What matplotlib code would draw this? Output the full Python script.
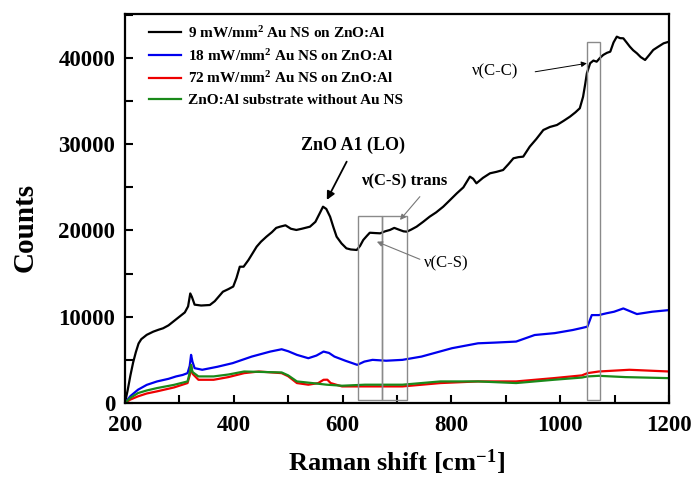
import matplotlib
matplotlib.use("Agg")
import matplotlib.pyplot as plt
from matplotlib.patches import Rectangle
from matplotlib.ticker import MultipleLocator

plt.rcParams["font.family"] = ["Liberation Serif", "DejaVu Serif"]
plt.rcParams["font.weight"] = "bold"
plt.rcParams["mathtext.fontset"] = "custom"
plt.rcParams["mathtext.rm"] = "Liberation Serif:bold"
plt.rcParams["mathtext.bf"] = "Liberation Serif:bold"
plt.rcParams["mathtext.default"] = "bf"

# Raman spectra (shift in cm^-1, counts)
shift_9mw = [200, 205, 210, 215, 220, 225, 230, 240, 252, 262, 270, 280, 290, 300, 310,
             316, 320, 323, 328, 340, 356, 365, 380, 390, 399, 405, 411, 418, 427, 435,
             442, 450, 460, 470, 478, 485, 495, 505, 515, 525, 540, 550, 558, 564, 570,
             577, 583, 589, 598, 607, 615, 626, 632, 638, 645, 650, 660, 669, 678, 687,
             695, 705, 712, 718, 726, 736, 748, 760, 772, 785, 797, 810, 822, 834, 840,
             846, 858, 871, 883, 895, 905, 914, 923, 932, 944, 956, 969, 981, 994, 1006,
             1018, 1028, 1036, 1042, 1046, 1049, 1055, 1061, 1067, 1073, 1079, 1086, 1092,
             1098, 1104, 1110, 1116, 1122, 1128, 1134, 1141, 1148, 1156, 1163, 1171, 1180,
             1190, 1200]
counts_9mw = [0, 1500, 3200, 4700, 5900, 6900, 7400, 7900, 8270, 8500, 8660, 9000, 9500,
              10000, 10500, 11200, 12700, 12300, 11400, 11300, 11360, 11800, 12900, 13200,
              13500, 14500, 15800, 15800, 16580, 17400, 18120, 18700, 19280, 19800, 20300,
              20440, 20600, 20200, 20060, 20200, 20440, 21000, 22000, 22760, 22500, 21600,
              20400, 19280, 18500, 17930, 17800, 17740, 18200, 18900, 19400, 19740, 19700,
              19670, 19900, 20060, 20300, 20060, 19900, 19860, 20100, 20440, 21000, 21600,
              22100, 22760, 23500, 24310, 25000, 26240, 26000, 25470, 26100, 26630, 26800,
              27010, 27700, 28370, 28500, 28560, 29720, 30600, 31650, 32000, 32230, 32700,
              33200, 33700, 34170, 35500, 37000, 38230, 39390, 39700, 39570, 40000, 40350,
              40600, 40730, 41800, 42470, 42300, 42280, 41800, 41310, 40900, 40540, 40100,
              39770, 40300, 40930, 41300, 41700, 41890]

shift_18mw = [200, 210, 224, 240, 259, 280, 294, 306, 315, 319, 321.5, 324, 328, 342, 370,
              398, 433, 467, 488, 500, 516, 537, 552, 565, 575, 585, 605, 627, 640, 655,
              680, 710, 745, 775, 801, 849, 880, 919, 953, 990, 1023, 1040, 1050, 1058,
              1071, 1085, 1099, 1116, 1141, 1169, 1200]
counts_18mw = [0, 800, 1540, 2100, 2500, 2800, 3080, 3250, 3460, 4300, 5580, 4800, 4040,
               3850, 4200, 4620, 5380, 5960, 6230, 6000, 5580, 5190, 5500, 5960, 5800, 5380,
               4900, 4420, 4800, 5000, 4900, 5000, 5380, 5900, 6350, 6920, 7000, 7120, 7880,
               8100, 8460, 8700, 8850, 10190, 10190, 10400, 10580, 10960, 10310, 10580, 10770]

shift_72mw = [200, 210, 224, 240, 259, 290, 315, 319, 321.5, 324, 335, 363, 390, 419, 446,
              488, 500, 516, 537, 555, 565, 572, 578, 599, 641, 710, 780, 849, 919, 988,
              1040, 1050, 1071, 1127, 1200]
counts_72mw = [0, 400, 770, 1100, 1350, 1800, 2310, 3200, 4400, 3400, 2690, 2690, 3000,
               3460, 3650, 3460, 3100, 2310, 2120, 2300, 2690, 2700, 2310, 1920, 1920,
               1920, 2310, 2500, 2500, 2880, 3200, 3460, 3650, 3850, 3650]

shift_sub = [200, 210, 224, 240, 259, 290, 315, 319, 321.5, 324, 335, 363, 390, 419, 450,
             488, 500, 516, 544, 571, 599, 641, 710, 780, 849, 919, 988, 1040, 1050, 1071,
             1120, 1200]
counts_sub = [0, 600, 1150, 1450, 1730, 2100, 2500, 3500, 4420, 3600, 3080, 3080, 3300,
              3650, 3600, 3540, 3200, 2500, 2310, 2120, 2000, 2120, 2120, 2500, 2500, 2310,
              2690, 2950, 3080, 3150, 3000, 2880]

series = [
    (shift_9mw, counts_9mw, "black", r"9 mW/mm$^2$ Au NS on ZnO:Al"),
    (shift_18mw, counts_18mw, "#0000ee", r"18 mW/mm$^2$ Au NS on ZnO:Al"),
    (shift_72mw, counts_72mw, "#ee0000", r"72 mW/mm$^2$ Au NS on ZnO:Al"),
    (shift_sub, counts_sub, "#1a8a1a", "ZnO:Al substrate without Au NS"),
]

# Highlighted band regions (x0, x1, top)
band_x0 = [628, 673, 1050]
band_x1 = [673, 718, 1073]
band_top = [21700, 21700, 41900]
band_bottom = 300

fig = plt.figure(figsize=(6.92, 4.79), dpi=100)
ax = fig.add_axes([0.1806, 0.1587, 0.7862, 0.8121])

for x, y, c, lab in series:
    ax.plot(x, y, color=c, lw=1.6, label=lab)

for x0, x1, top in zip(band_x0, band_x1, band_top):
    ax.add_patch(Rectangle((x0, band_bottom), x1 - x0, top - band_bottom,
                           fill=False, edgecolor="#8a8a8a", lw=1.0, zorder=3))

ax.set_xlim(200, 1200)
ax.set_ylim(0, 45100)
ax.xaxis.set_major_locator(MultipleLocator(200))
ax.xaxis.set_minor_locator(MultipleLocator(100))
ax.yaxis.set_major_locator(MultipleLocator(10000))
ax.yaxis.set_minor_locator(MultipleLocator(5000))
ax.tick_params(which="both", direction="in", top=False, right=False, width=1.5,
               length=6, labelsize=16.5)
ax.tick_params(axis="x", which="both", pad=9)
ax.tick_params(axis="y", which="both", pad=7)
for lab in ax.get_xticklabels() + ax.get_yticklabels():
    lab.set_fontweight("bold")
for sp in ax.spines.values():
    sp.set_linewidth(1.6)

fig.text(396 / 692, 1 - 462 / 479, r"Raman shift [cm$^{-1}$]", fontsize=19,
         fontweight="bold", ha="center", va="center")
fig.text(25 / 692, 1 - 227 / 479, "Counts", fontsize=21, fontweight="bold",
         rotation=90, ha="center", va="center")

leg = ax.legend(loc="upper left", bbox_to_anchor=(0.044, 0.972), frameon=False,
                fontsize=11, handlelength=2.1, handletextpad=0.45, labelspacing=0.45,
                borderpad=0, borderaxespad=0)
for t in leg.get_texts():
    t.set_fontweight("bold")

# Peak assignments: labels and their pointer arrows
ax.text(619, 29900, "ZnO A1 (LO)", fontsize=13, fontweight="bold",
        ha="center", va="center")
ax.text(714, 25660, "\u03bd(C-S) trans", fontsize=12, fontweight="bold",
        ha="center", va="center")
ax.text(791, 16200, "\u03bd(C-S)", fontsize=12, fontweight="normal",
        ha="center", va="center")
ax.text(880, 38400, "\u03bd(C-C)", fontsize=12, fontweight="normal",
        ha="center", va="center")

arrow_black = dict(arrowstyle="-|>", color="black", lw=1.3, shrinkA=0, shrinkB=0,
                   mutation_scale=12)
arrow_thin = dict(arrowstyle="-|>", color="black", lw=0.7, shrinkA=0, shrinkB=0,
                  mutation_scale=8)
arrow_gray = dict(arrowstyle="-|>", color="#777777", lw=0.8, shrinkA=0, shrinkB=0,
                  mutation_scale=8)
ax.annotate("", xy=(571, 23540), xytext=(607.5, 27980), arrowprops=arrow_black)
ax.annotate("", xy=(705.5, 21220), xytext=(742, 23920), arrowprops=arrow_gray)
ax.annotate("", xy=(663, 18700), xytext=(742, 16660), arrowprops=arrow_gray)
ax.annotate("", xy=(1049, 39380), xytext=(954, 38400), arrowprops=arrow_thin)

fig.savefig("out.png", dpi=100)
